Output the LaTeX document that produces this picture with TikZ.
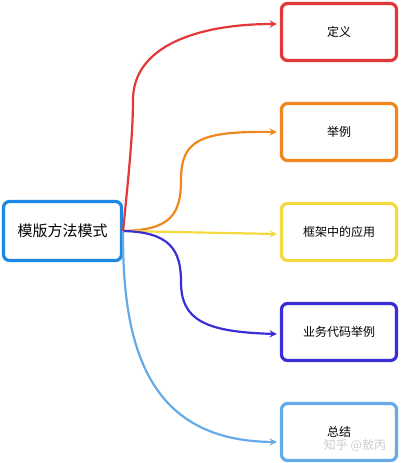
\documentclass[tikz,border=0pt]{standalone}
\usepackage{fontspec}
\setmainfont{Noto Sans CJK SC}
\usetikzlibrary{arrows,positioning}

\definecolor{rootblue}{HTML}{1E88E5}
\definecolor{defred}{HTML}{E2383A}
\definecolor{exorange}{HTML}{F0871E}
\definecolor{fwyellow}{HTML}{F5D940}
\definecolor{bizblue}{HTML}{3A2FD4}
\definecolor{sumblue}{HTML}{66AAE8}

\begin{document}
\begin{tikzpicture}[x=1pt, y=-1pt, >=stealth,
    box/.style={draw, rounded corners=6pt, line width=3.2pt, fill=white, minimum width=115pt, minimum height=57pt, font=\fontsize{12}{14}\selectfont},
    link/.style={->, line width=2.2pt}]
                    \useasboundingbox (0,0) rectangle (403,463);
                    \node[box, draw=rootblue, minimum width=118pt, minimum height=59pt, font=\fontsize{15}{17}\selectfont] (root) at (62.5,231) {模版方法模式};
                    \node[box, draw=defred] (def) at (339,32) {定义};
                    \node[box, draw=exorange, below=39.8pt of def] (ex) {举例};
                    \node[box, draw=fwyellow, below=39.8pt of ex] (fw) {框架中的应用};
                    \node[box, draw=bizblue, below=39.8pt of fw] (biz) {业务代码举例};
                    \node[box, draw=sumblue, below=39.8pt of biz] (sum) {总结};
                    \node[text=gray!40, font=\fontsize{12}{14}\selectfont] (mark) at (355,445) {知乎 @敖丙};
                    % arrow ends just left of the boxes
                    \coordinate (defin) at ([xshift=-3pt, yshift=8pt]def.west);
                    \coordinate (exin) at ([xshift=-3pt]ex.west);
                    \coordinate (fwin) at ([xshift=-3pt, yshift=-2pt]fw.west);
                    \coordinate (bizin) at ([xshift=-3pt, yshift=-2pt]biz.west);
                    \coordinate (sumin) at ([xshift=-3pt, yshift=-10pt]sum.west);
                    \draw[link, defred] (root.east) .. controls (128,180) and (133,135) .. (133,100) .. controls (133,45) and (200,24) .. (defin);
                    \draw[link, exorange] (root.east) .. controls (170,230) and (181,215) .. (181,180) .. controls (181,140) and (200,131) .. (exin);
                    \draw[link, fwyellow] (root.east) -- (fwin);
                    \draw[link, bizblue] (root.east) .. controls (170,232) and (181,250) .. (181,282) .. controls (181,320) and (205,332) .. (bizin);
                    \draw[link, sumblue] (root.east) .. controls (122,350) and (150,441) .. (sumin);
                \end{tikzpicture}
\end{document}
